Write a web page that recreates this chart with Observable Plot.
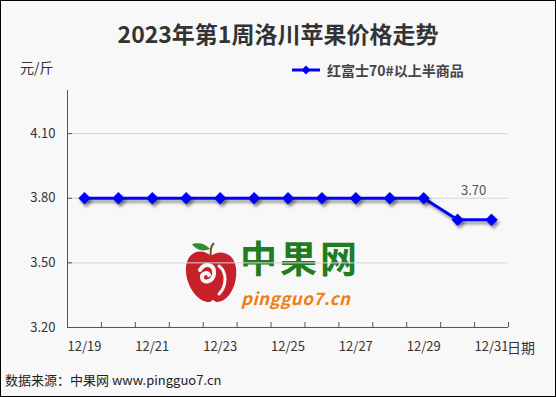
<!DOCTYPE html>
<html>
<head>
<meta charset="utf-8">
<script src="https://cdn.jsdelivr.net/npm/d3@7"></script>
<script src="https://cdn.jsdelivr.net/npm/@observablehq/plot@0.6"></script>
<style>
  html, body { margin: 0; padding: 0; background: #fff; }
  #wrap { position: relative; width: 556px; height: 397px; background: #f8f8f8; overflow: hidden;
          font-family: "Noto Sans CJK SC", "Noto Sans", sans-serif; }
  #frame { position: absolute; left: 0; top: 0; width: 556px; height: 397px; box-sizing: border-box;
           border: 1px solid #000; pointer-events: none; }
  .abs { position: absolute; white-space: nowrap; }
  #title { left: 0; width: 556px; top: 16px; text-align: center; font-size: 23px; font-weight: bold; color: #333; line-height: 34px; }
  #unit { left: 20px; top: 57px; font-size: 14px; color: #333; line-height: 20px; }
  #xname { left: 507px; top: 337px; font-size: 14px; color: #333; line-height: 20px; background: #f8f8f8; padding-right: 2px; }
  #legend { left: 292px; top: 59px; font-size: 14px; font-weight: bold; color: #444; line-height: 22px; display: flex; align-items: center; }
  #source { left: 5px; top: 370px; font-size: 13px; color: #222; line-height: 20px; }
  #wm1 { left: 240px; top: 237px; font-size: 37px; font-weight: bold; color: #1e7d1e; line-height: 40px; letter-spacing: 3px; }
  #wm2 { left: 241px; top: 289px; font-size: 17px; font-weight: bold; font-style: italic; color: #f07d12; line-height: 17px; letter-spacing: 0.5px; }
  #apple { left: 183px; top: 240px; }
</style>
</head>
<body>
<div id="wrap"></div>
<script>
// ---- data ----
const dates = ["12/19","12/20","12/21","12/22","12/23","12/24","12/25","12/26","12/27","12/28","12/29","12/30","12/31"];
const prices = [3.80,3.80,3.80,3.80,3.80,3.80,3.80,3.80,3.80,3.80,3.80,3.70,3.70];
const yTicks = [3.20,3.50,3.80,4.10];
const yDomain = [3.20,4.30];
const labelledDates = ["12/19","12/21","12/23","12/25","12/27","12/29","12/31"];
const seriesName = "红富士70#以上半商品";
const titleText = "2023年第1周洛川苹果价格走势";
const unitText = "元/斤";
const xAxisName = "日期";
const sourceText = "数据来源：中果网 www.pingguo7.cn";
const annotated = ["12/30"];

const data = dates.map((d, i) => ({i, date: d, price: prices[i]}));
const fmt = d3.format(".2f");
const boundaries = dates.map((d, i) => i + 0.5);
const labelIdx = labelledDates.map(d => dates.indexOf(d));

const chart = Plot.plot({
  width: 556,
  height: 397,
  marginLeft: 67,
  marginRight: 48,
  marginTop: 90,
  marginBottom: 70,
  style: {background: "transparent", fontFamily: "'Noto Sans CJK SC', sans-serif", fontSize: "13px", color: "#333"},
  x: {type: "linear", domain: [-0.5, dates.length - 0.5], label: null},
  y: {domain: yDomain, label: null},
  marks: [
    Plot.ruleY(yTicks.filter(t => t > yDomain[0]), {stroke: "#d6d6d6", strokeWidth: 1}),
    Plot.axisY({ticks: yTicks, tickSize: 0, tickPadding: 12, tickFormat: fmt, label: null, fill: "#333"}),
    Plot.axisY({ticks: yTicks, tickSize: -5, tickFormat: () => "", label: null, stroke: "#555"}),
    Plot.axisX({ticks: boundaries, tickSize: -5, tickFormat: () => "", label: null, stroke: "#555"}),
    Plot.axisX({ticks: labelIdx, tickSize: 0, tickPadding: 14, tickFormat: i => dates[i], label: null, fill: "#333"}),
    Plot.ruleX([-0.5], {stroke: "#555", strokeWidth: 1}),
    Plot.ruleY([yDomain[0]], {stroke: "#555", strokeWidth: 1}),
    Plot.line(data, {x: "i", y: "price", stroke: "#0000ff", strokeWidth: 3}),
    Plot.dot(data, {x: "i", y: "price", symbol: "diamond2", r: 4.6, fill: "#0000ff", stroke: "#0000ff"}),
    Plot.text(data.filter(d => annotated.includes(d.date)), {x: "i", y: "price", text: d => fmt(d.price), dx: 16, dy: -29, fill: "#555", fontSize: 13})
  ]
});

chart.querySelectorAll('g[aria-label="line"], g[aria-label="dot"]').forEach(g => {
  g.style.filter = "drop-shadow(2px 3px 1.5px rgba(0,0,0,0.4))";
});

const wrap = document.getElementById("wrap");
chart.style.position = "absolute";
chart.style.left = "0px";
chart.style.top = "0px";

// watermark (behind chart)
const apple = document.createElement("div");
apple.className = "abs"; apple.id = "apple";
apple.innerHTML = `<svg width="56" height="66" viewBox="0 0 56 66">
  <path d="M28 16 C20 8 4 10 3 28 C2 44 14 62 26 62 C28 62 29 60 30 60 C31 60 32 62 34 62 C46 62 55 44 53 28 C51 12 36 9 28 16 Z" fill="#c6202b"/>
  <path d="M17 30 C22 22 32 24 31 34 C30 42 20 44 19 38 C18 34 24 31 26 35" fill="none" stroke="#f8f8f8" stroke-width="4" stroke-linecap="round"/>
  <path d="M36 26 C44 32 44 46 36 54" fill="none" stroke="#f8f8f8" stroke-width="3" stroke-linecap="round"/>
  <path d="M28 16 C27 10 28 6 31 3" fill="none" stroke="#7a4a2a" stroke-width="2"/>
  <path d="M27 9 C21 2 13 3 9 4 C13 10 20 12 27 9 Z" fill="#2f8f2f"/>
</svg>`;
wrap.appendChild(apple);
const wm1 = document.createElement("div"); wm1.className = "abs"; wm1.id = "wm1"; wm1.textContent = "中果网"; wrap.appendChild(wm1);
const wm2 = document.createElement("div"); wm2.className = "abs"; wm2.id = "wm2"; wm2.textContent = "pingguo7.cn"; wrap.appendChild(wm2);

wrap.appendChild(chart);

function addText(id, text) {
  const el = document.createElement("div");
  el.className = "abs"; el.id = id; el.textContent = text;
  wrap.appendChild(el);
  return el;
}
addText("title", titleText);
addText("unit", unitText);
addText("xname", xAxisName);
addText("source", sourceText);

const legend = document.createElement("div");
legend.className = "abs"; legend.id = "legend";
legend.innerHTML = `<svg width="30" height="12" style="margin-right:5px"><line x1="0" x2="28" y1="6" y2="6" stroke="#0000ff" stroke-width="3"/><path d="M14 1.5 L18.5 6 L14 10.5 L9.5 6 Z" fill="#0000ff"/></svg><span></span>`;
legend.querySelector("span").textContent = seriesName;
wrap.appendChild(legend);

const frame = document.createElement("div"); frame.id = "frame"; wrap.appendChild(frame);
</script>
</body>
</html>
